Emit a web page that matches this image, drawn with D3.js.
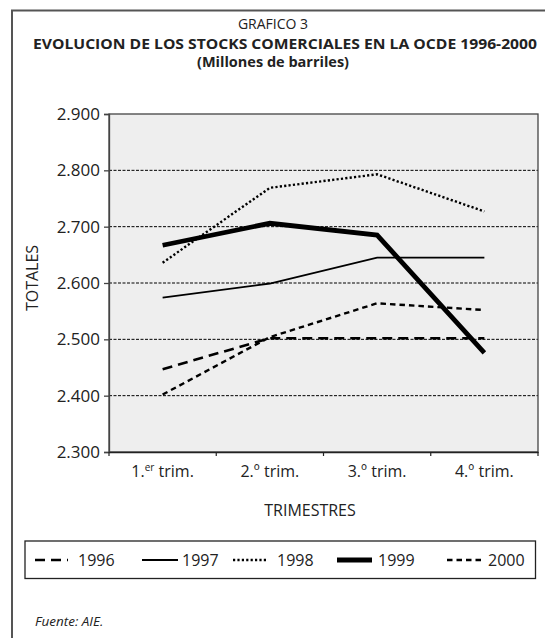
<!DOCTYPE html>
<html>
<head>
<meta charset="utf-8">
<script src="https://cdn.jsdelivr.net/npm/d3@7"></script>
<style>
  html, body { margin: 0; padding: 0; background: #fff; }
  svg { display: block; }
  text { font-family: "Open Sans", "Noto Sans", sans-serif; fill: #222; }
</style>
</head>
<body>
<svg id="chart" width="545" height="638"></svg>
<script>
// ---- data ----
const quarters = ["1.er trim.", "2.º trim.", "3.º trim.", "4.º trim."];
const years = ["1996", "1997", "1998", "1999", "2000"];
const v1996 = [2447, 2502, 2502, 2502];
const v1997 = [2574, 2599, 2645, 2645];
const v1998 = [2636, 2769, 2793, 2727];
const v1999 = [2667, 2706, 2685, 2476];
const v2000 = [2402, 2504, 2564, 2552];
const yTicks = [2300, 2400, 2500, 2600, 2700, 2800, 2900];

const seriesValues = [v1996, v1997, v1998, v1999, v2000];
const styles = {
  "1996": { w: 2.6, dash: "10,6" },
  "1997": { w: 1.9, dash: null },
  "1998": { w: 2.4, dash: "2.2,2.2" },
  "1999": { w: 4.8, dash: null },
  "2000": { w: 2.4, dash: "5.5,4" }
};

const svg = d3.select("#chart");
const L = 109, R = 538, T = 114, B = 452;

// outer frame (top and left)
svg.append("path").attr("d", `M12,${638} L12,10.5 L545,10.5`)
  .attr("fill", "none").attr("stroke", "#555").attr("stroke-width", 2);

// titles
svg.append("text").attr("x", 273).attr("y", 29).attr("text-anchor", "middle")
  .style("font-size", "14px").text("GRAFICO 3");
svg.append("text").attr("x", 33).attr("y", 49)
  .style("font-size", "15px").style("font-weight", "bold")
  .attr("textLength", 504).attr("lengthAdjust", "spacingAndGlyphs")
  .text("EVOLUCION DE LOS STOCKS COMERCIALES EN LA OCDE 1996-2000");
svg.append("text").attr("x", 273).attr("y", 67).attr("text-anchor", "middle")
  .style("font-size", "14.5px").style("font-weight", "bold")
  .text("(Millones de barriles)");

const x = d3.scaleBand().domain(quarters).range([L, R]);
const y = d3.scaleLinear().domain([2300, 2900]).range([B, T]);

// plot background
svg.append("rect").attr("x", L).attr("y", T).attr("width", R - L).attr("height", B - T)
  .attr("fill", "#eeeeee");

// gridlines
svg.append("g").selectAll("line").data(yTicks.filter(d => d > 2300 && d < 2900)).join("line")
  .attr("x1", L).attr("x2", R).attr("y1", d => y(d)).attr("y2", d => y(d))
  .attr("stroke", "#000").attr("stroke-width", 1).attr("stroke-dasharray", "3,1.5");

// plot border
svg.append("rect").attr("x", L).attr("y", T).attr("width", R - L).attr("height", B - T)
  .attr("fill", "none").attr("stroke", "#444").attr("stroke-width", 1.3);

// y axis
const fmt = d3.formatLocale({ decimal: ",", thousands: ".", grouping: [3], currency: ["", ""] }).format(",");
const yAxis = svg.append("g").attr("transform", `translate(${L},0)`)
  .call(d3.axisLeft(y).tickValues(yTicks).tickFormat(fmt).tickSize(5).tickPadding(4));
yAxis.select(".domain").attr("stroke", "#444").attr("stroke-width", 1.3);
yAxis.selectAll(".tick line").attr("stroke", "#444").attr("stroke-width", 1.3);
yAxis.selectAll(".tick text").style("font-size", "17px").style("font-family", "'Open Sans', sans-serif").attr("fill", "#222");

// x axis
const xAxis = svg.append("g").attr("transform", `translate(0,${B})`)
  .call(d3.axisBottom(x).tickSize(0).tickFormat(""));
xAxis.select(".domain").attr("stroke", "#222").attr("stroke-width", 1.5);
// boundary ticks
const bounds = quarters.map(q => x(q)).concat([x(quarters[quarters.length - 1]) + x.bandwidth()]);
svg.append("g").selectAll("line").data(bounds).join("line")
  .attr("x1", d => d).attr("x2", d => d).attr("y1", B).attr("y2", B + 4)
  .attr("stroke", "#222").attr("stroke-width", 1.2);
// labels with superscript
const xl = svg.append("g").selectAll("text").data(quarters).join("text")
  .attr("x", d => x(d) + x.bandwidth() / 2).attr("y", 477)
  .attr("text-anchor", "middle").style("font-size", "16px");
xl.each(function (d) {
  const m = d.match(/^(\d\.)(er)?(.*)$/);
  const t = d3.select(this);
  t.append("tspan").text(m[1]);
  if (m[2]) t.append("tspan").attr("dy", -6).style("font-size", "10px").text(m[2]);
  t.append("tspan").attr("dy", m[2] ? 6 : 0).text(m[3]);
});

// axis titles
svg.append("text").attr("transform", `translate(38,278) rotate(-90)`)
  .attr("text-anchor", "middle").style("font-size", "16px").text("TOTALES");
svg.append("text").attr("x", 310).attr("y", 516).attr("text-anchor", "middle")
  .style("font-size", "16px").text("TRIMESTRES");

// lines
const line = d3.line().x((d, i) => x(quarters[i]) + x.bandwidth() / 2).y(d => y(d));
const order = [0, 1, 2, 4, 3];
svg.append("g").selectAll("path").data(order).join("path")
  .attr("d", i => line(seriesValues[i]))
  .attr("fill", "none").attr("stroke", "#000")
  .attr("stroke-width", i => styles[years[i]].w)
  .attr("stroke-dasharray", i => styles[years[i]].dash)
  .attr("stroke-linejoin", "miter");

// legend
svg.append("rect").attr("x", 25).attr("y", 541).attr("width", 510.5).attr("height", 37.5)
  .attr("fill", "#fff").attr("stroke", "#222").attr("stroke-width", 1.3);
const legendSample = [[35, 68], [142, 178], [233, 266], [337, 372], [447, 483]];
const legendText = [78, 182, 277, 378, 488];
const lg = svg.append("g");
years.forEach((yr, i) => {
  lg.append("line").attr("x1", legendSample[i][0]).attr("x2", legendSample[i][1])
    .attr("y1", 560).attr("y2", 560).attr("stroke", "#000")
    .attr("stroke-width", styles[yr].w).attr("stroke-dasharray", styles[yr].dash);
  lg.append("text").attr("x", legendText[i]).attr("y", 566).style("font-size", "16px").text(yr);
});

// source
svg.append("text").attr("x", 35).attr("y", 626).style("font-size", "13.5px")
  .style("font-style", "italic").text("Fuente: AIE.");
</script>
</body>
</html>
